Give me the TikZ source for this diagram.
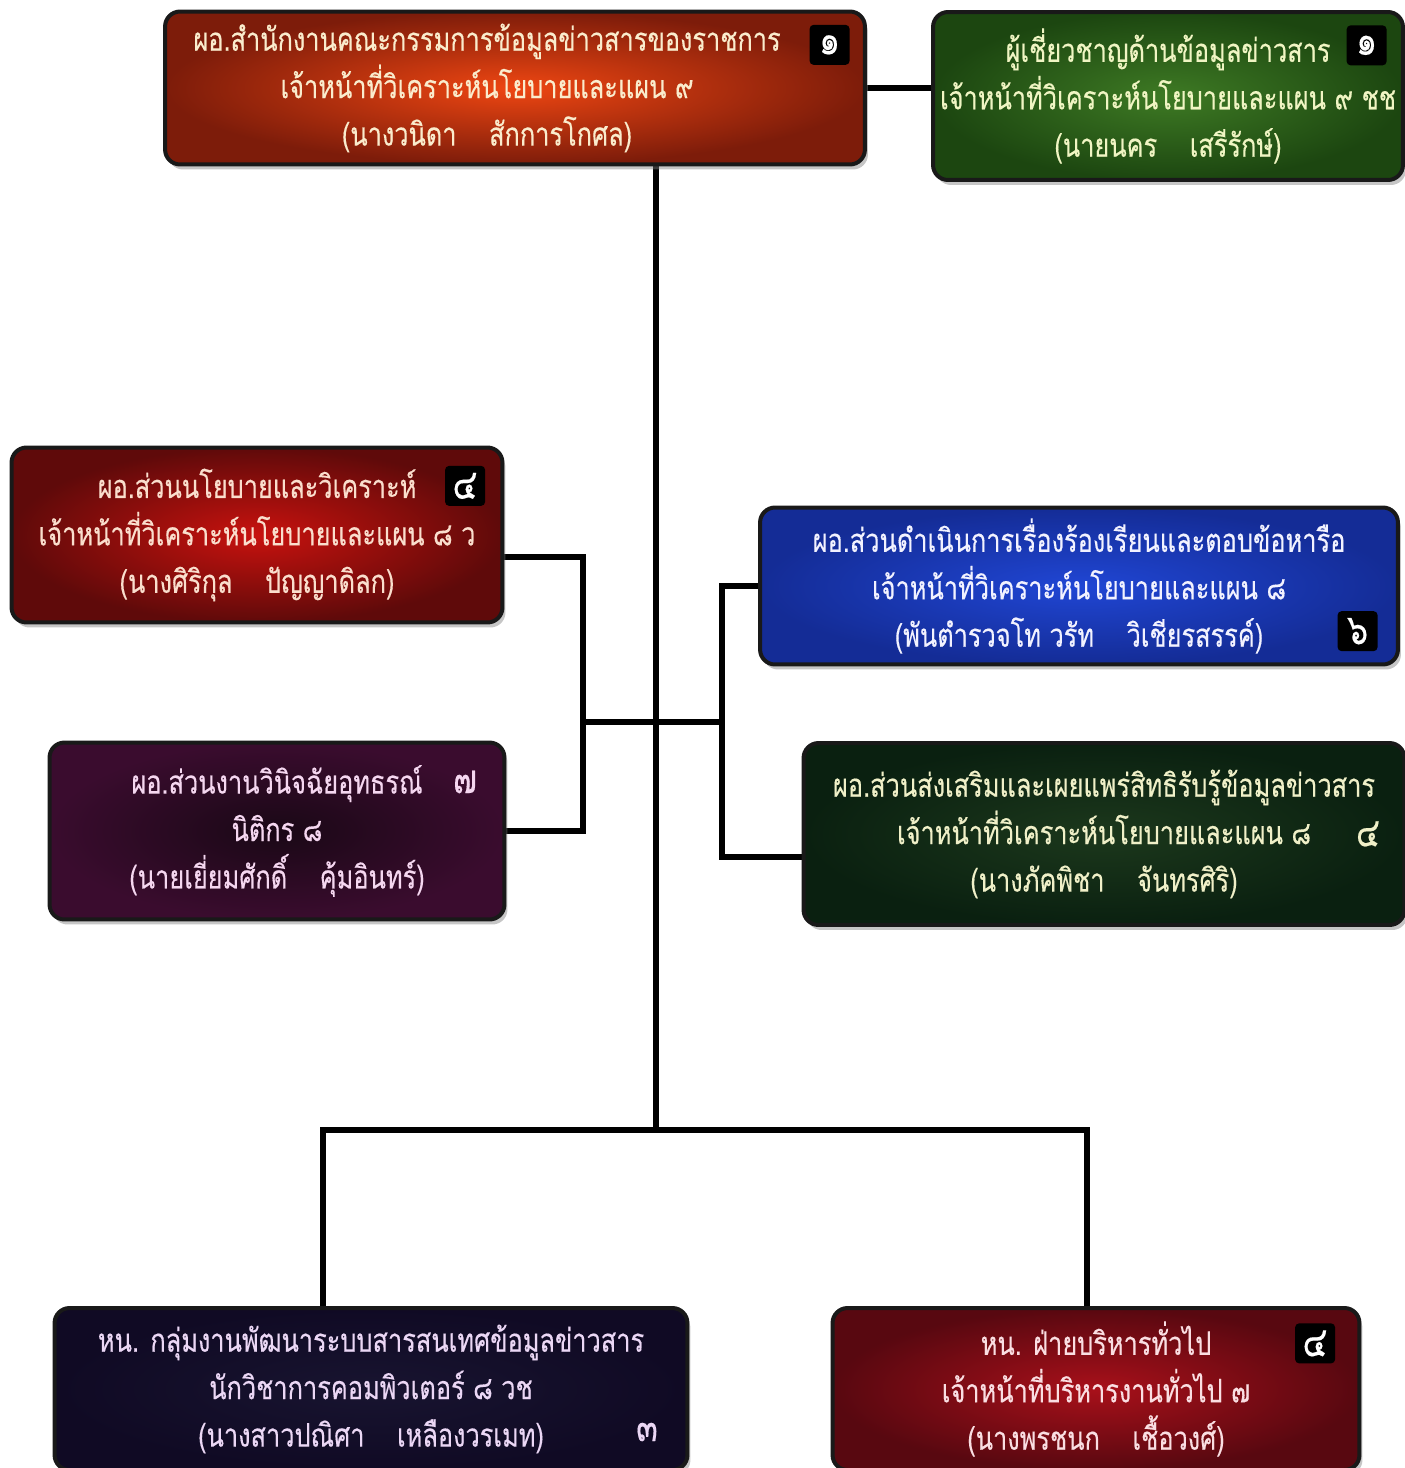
\documentclass[tikz,border=0pt]{standalone}
\usepackage{fontspec}
\newfontfamily\thaifont[Script=Thai,FakeStretch=0.78,FakeBold=0.3]{Loma}
\usetikzlibrary{shapes,positioning,shadows,backgrounds,calc}

\definecolor{topin}{RGB}{238,70,18}
\definecolor{topout}{RGB}{125,28,10}
\definecolor{toptxt}{RGB}{250,236,205}
\definecolor{expin}{RGB}{62,122,36}
\definecolor{expout}{RGB}{28,70,16}
\definecolor{exptxt}{RGB}{240,245,195}
\definecolor{polin}{RGB}{200,18,14}
\definecolor{polout}{RGB}{95,10,10}
\definecolor{poltxt}{RGB}{250,222,205}
\definecolor{cmpin}{RGB}{32,70,212}
\definecolor{cmpout}{RGB}{20,44,150}
\definecolor{cmptxt}{RGB}{242,242,255}
\definecolor{appin}{RGB}{26,8,22}
\definecolor{appout}{RGB}{58,12,46}
\definecolor{apptxt}{RGB}{245,215,240}
\definecolor{proin}{RGB}{28,56,28}
\definecolor{proout}{RGB}{10,32,16}
\definecolor{protxt}{RGB}{240,240,200}
\definecolor{itin}{RGB}{24,20,48}
\definecolor{itout}{RGB}{16,10,36}
\definecolor{ittxt}{RGB}{235,215,245}
\definecolor{admin}{RGB}{168,16,26}
\definecolor{admout}{RGB}{88,8,16}
\definecolor{admtxt}{RGB}{250,222,226}

\begin{document}
\begin{tikzpicture}[
    x=0.02cm,y=-0.02cm,
    box/.style={rectangle,rounded corners=0.3cm,draw=black!90,line width=0.08cm,
      drop shadow={shadow xshift=0.06cm,shadow yshift=-0.1cm,opacity=0.45}},
    lbl/.style={align=center,font=\thaifont\fontsize{18.5}{27}\selectfont},
    badge/.style={rectangle,rounded corners=0.08cm,fill=black,text=white,
      minimum size=0.8cm,inner sep=0pt,font=\thaifont\fontsize{24}{24}\selectfont},
    num/.style={font=\thaifont\fontsize{23}{24}\selectfont},
    link/.style={line width=0.12cm,black}]
    \useasboundingbox (0,0) rectangle (1405,1468);

    % boxes
    \node[box,inner color=topin,outer color=topout,minimum width=14cm,minimum height=3.06cm,
      label={[lbl,text=toptxt,xshift=-0.56cm]center:{ผอ.สำนักงานคณะกรรมการข้อมูลข่าวสารของราชการ\\เจ้าหน้าที่วิเคราะห์นโยบายและแผน ๙\\(นางวนิดา\quad สักการโกศล)}}]
      (office) at (515,88) {};
    \node[box,inner color=expin,outer color=expout,minimum width=9.4cm,minimum height=3.36cm,
      label={[lbl,text=exptxt]center:{ผู้เชี่ยวชาญด้านข้อมูลข่าวสาร\\เจ้าหน้าที่วิเคราะห์นโยบายและแผน ๙ ชช\\(นายนคร\quad เสรีรักษ์)}}]
      (expert) at (1168,96) {};
    \node[box,inner color=polin,outer color=polout,minimum width=9.82cm,minimum height=3.5cm,
      label={[lbl,text=poltxt]center:{ผอ.ส่วนนโยบายและวิเคราะห์\\เจ้าหน้าที่วิเคราะห์นโยบายและแผน ๘ ว\\(นางศิริกุล\quad ปัญญาดิลก)}}]
      (policy) at (257,535) {};
    \node[box,inner color=cmpin,outer color=cmpout,minimum width=12.76cm,minimum height=3.14cm,
      label={[lbl,text=cmptxt]center:{ผอ.ส่วนดำเนินการเรื่องร้องเรียนและตอบข้อหารือ\\เจ้าหน้าที่วิเคราะห์นโยบายและแผน ๘\\(พันตำรวจโท วรัท\quad วิเชียรสรรค์)}}]
      (complaint) at (1079,586) {};
    \node[box,inner color=appin,outer color=appout,minimum width=9.1cm,minimum height=3.54cm,
      label={[lbl,text=apptxt]center:{ผอ.ส่วนงานวินิจฉัยอุทธรณ์\\นิติกร ๘\\(นายเยี่ยมศักดิ์\quad คุ้มอินทร์)}}]
      (appeal) at (277,831) {};
    \node[box,inner color=proin,outer color=proout,minimum width=12.02cm,minimum height=3.64cm,
      label={[lbl,text=protxt]center:{ผอ.ส่วนส่งเสริมและเผยแพร่สิทธิรับรู้ข้อมูลข่าวสาร\\เจ้าหน้าที่วิเคราะห์นโยบายและแผน ๘\\(นางภัคพิชา\quad จันทรศิริ)}}]
      (promo) at (1104,834) {};
    \node[box,inner color=itin,outer color=itout,minimum width=12.66cm,minimum height=3.24cm,
      label={[lbl,text=ittxt]center:{หน. กลุ่มงานพัฒนาระบบสารสนเทศข้อมูลข่าวสาร\\นักวิชาการคอมพิวเตอร์ ๘ วช\\(นางสาวปณิศา\quad เหลืองวรเมท)}}]
      (itgrp) at (371,1389) {};
    \node[box,inner color=admin,outer color=admout,minimum width=10.54cm,minimum height=3.24cm,
      label={[lbl,text=admtxt]center:{หน. ฝ่ายบริหารทั่วไป\\เจ้าหน้าที่บริหารงานทั่วไป ๗\\(นางพรชนก\quad เชื้อวงศ์)}}]
      (admbox) at (1096,1389) {};

    % level numbers
    \node[badge] (b1) [below left=0.3cm and 0.34cm of office.north east] {๑};
    \node[badge] (b2) [below left=0.3cm and 0.36cm of expert.north east] {๑};
    \node[badge] (b3) [below left=0.4cm and 0.38cm of policy.north east] {๔};
    \node[badge] (b4) [above left=0.3cm and 0.44cm of complaint.south east] {๖};
    \node[badge] (b8) [below left=0.34cm and 0.52cm of admbox.north east] {๔};
    \node[num,text=apptxt] (n5) at (465,782) {๗};
    \node[num,text=protxt] (n6) at (1368,834) {๔};
    \node[num,text=ittxt] (n7) at (647,1432) {๓};

    \coordinate (split) at (656,1130);
    \coordinate (bl) at (323,1130);
    \coordinate (br) at (1087,1130);
    \coordinate (lj) at (583,722);
    \coordinate (rj) at (722,722);

    \begin{scope}[on background layer]
      \draw[link] (office.east) -- (office.east -| expert.west);
      \draw[link] (office.south -| split) -- (split);
      \draw[link] (bl |- itgrp.north) -- (bl) -- (br) -- (br |- admbox.north);
      \draw[link] (lj) -- (rj);
      \draw[link] ([yshift=-0.44cm]policy.east) -| (lj) |- (appeal.east);
      \draw[link] (complaint.west) -| (rj) |- ([yshift=-0.46cm]promo.west);
    \end{scope}
  \end{tikzpicture}
\end{document}
